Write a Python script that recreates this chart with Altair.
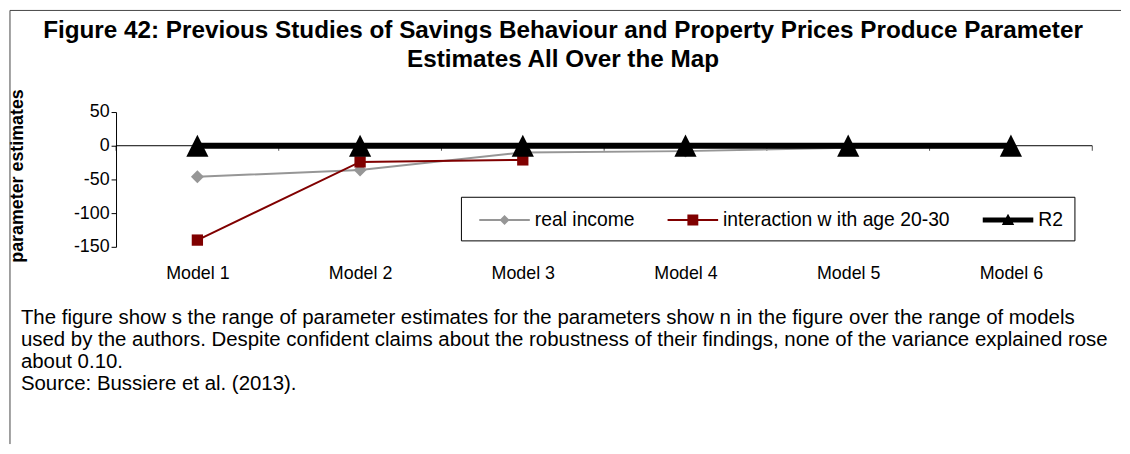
import altair as alt
import pandas as pd

# ---- data -------------------------------------------------------------
models = ["Model 1", "Model 2", "Model 3", "Model 4", "Model 5", "Model 6"]
series = ["real income", "interaction w ith age 20-30", "R2"]
real_income = [-46, -36, -10, -8, -3, -2]
interaction = [-140, -24, -21, None, None, None]
r2 = [0.02, 0.03, 0.04, 0.05, 0.06, 0.07]

title_lines = [
    "Figure 42: Previous Studies of Savings Behaviour and Property Prices Produce Parameter",
    "Estimates All Over the Map",
]
caption_lines = [
    "The figure show s the range of parameter estimates for the parameters show n in the figure over the range of models",
    "used by the authors. Despite confident claims about the robustness of their findings, none of the variance explained rose",
    "about 0.10.",
    "Source: Bussiere et al. (2013).",
]
y_ticks = [-150, -100, -50, 0, 50]

# ---- styles -----------------------------------------------------------
FONT = "Liberation Sans"
colors = ["#969696", "#800000", "#000000"]
line_widths = [2, 2, 6]
marker_paths = ["M0,-1L1,0L0,1L-1,0Z", "M-1,-1H1V1H-1Z", "M0,-1L1,1L-1,1Z"]
marker_sizes = [170, 130, 500]
legend_paths = [
    "M-2.04,-0.08H2.04V0.08H-2.04Z M0,-0.4L0.4,0L0,0.4L-0.4,0Z",
    "M-2.04,-0.08H2.04V0.08H-2.04Z M-0.44,-0.44H0.44V0.44H-0.44Z",
    "M-2.04,-0.2H2.04V0.2H-2.04Z M0,-0.5L0.5,0.4L-0.5,0.4Z",
]

W, H = 985, 136

rows = []
for name, vals in zip(series, [real_income, interaction, r2]):
    for i, v in enumerate(vals):
        if v is not None:
            rows.append({"series": name, "idx": i + 1, "model": models[i], "value": v})
df = pd.DataFrame(rows)

x_scale = alt.Scale(domain=[0.5, len(models) + 0.5], nice=False, zero=False)
y_scale = alt.Scale(domain=[-150, 50], nice=False, zero=False)
label_expr = "[" + ",".join("'%s'" % m for m in models) + "][datum.value - 1]"

x_enc = alt.X(
    "idx:Q",
    scale=x_scale,
    axis=alt.Axis(
        values=list(range(1, len(models) + 1)),
        labelExpr=label_expr,
        ticks=False,
        domain=False,
        grid=False,
        labelFont=FONT,
        labelFontSize=18,
        labelColor="black",
        labelPadding=18,
        labelOverlap=False,
        title=None,
    ),
)
y_enc = alt.Y(
    "value:Q",
    scale=y_scale,
    axis=alt.Axis(
        values=y_ticks,
        labelExpr="'' + datum.value",
        labelOverlap=False,
        grid=False,
        domainColor="black",
        tickColor="black",
        tickSize=5,
        labelFont=FONT,
        labelFontSize=18,
        labelColor="black",
        labelPadding=2,
        title="parameter estimates",
        titleFont=FONT,
        titleFontSize=18,
        titleFontWeight="bold",
        titleColor="black",
        titleX=-99,
        titleY=64,
        titleAlign="center",
        titleBaseline="middle",
        titleAngle=-90,
    ),
)

base = alt.Chart(df)

layers = []

# horizontal category axis line at zero
layers.append(
    alt.Chart(pd.DataFrame({"idx": [0.5, len(models) + 0.5], "value": [0, 0]}))
    .mark_line(color="black", strokeWidth=1)
    .encode(x=x_enc, y=y_enc)
)
# tick marks between categories
bounds = [i + 0.5 for i in range(len(models) + 1)]
layers.append(
    alt.Chart(pd.DataFrame({"idx": bounds, "value": [0] * len(bounds)}))
    .mark_tick(orient="vertical", color="black", size=5, thickness=1, yOffset=2.5)
    .encode(x=x_enc, y=y_enc)
)

for name, c, lw, p, s in zip(series, colors, line_widths, marker_paths, marker_sizes):
    sub = base.transform_filter(alt.datum.series == name)
    layers.append(sub.mark_line(color=c, strokeWidth=lw).encode(x=x_enc, y=y_enc))
    layers.append(
        sub.mark_point(shape=p, size=s, filled=True, fill=c, color=c, opacity=1, strokeWidth=0)
        .encode(x=x_enc, y=y_enc)
    )

# legend (driven by explicit scale domains)
leg = alt.Legend(
    orient="none",
    legendX=348,
    legendY=85.5,
    direction="horizontal",
    title=None,
    symbolSize=625,
    symbolStrokeWidth=0,
    symbolOpacity=1,
    symbolOffset=20.5,
    labelFont=FONT,
    labelFontSize=19.5,
    labelColor="black",
    labelOffset=18,
    columnPadding=25,
    padding=11,
    strokeColor="black",
    fillColor="white",
    labelLimit=400,
)
layers.append(
    base.transform_filter("false")
    .mark_point(filled=True, opacity=1)
    .encode(
        x=x_enc,
        y=y_enc,
        fill=alt.Fill("series:N", scale=alt.Scale(domain=series, range=colors), legend=leg),
        shape=alt.Shape("series:N", scale=alt.Scale(domain=series, range=legend_paths), legend=leg),
    )
)

# frame lines
one = pd.DataFrame({"a": [1]})
layers.append(
    alt.Chart(one)
    .mark_rule(color="#444444", strokeWidth=1)
    .encode(x=alt.value(-107), x2=alt.value(1014), y=alt.value(-102.5))
)
layers.append(
    alt.Chart(one)
    .mark_rule(color="#444444", strokeWidth=1)
    .encode(x=alt.value(-107), y=alt.value(-102.5), y2=alt.value(335))
)

# title lines
for line, ty in zip(title_lines, [-81.5, -52.5]):
    layers.append(
        alt.Chart(pd.DataFrame({"t": [line]}))
        .mark_text(align="center", baseline="middle", font=FONT, fontSize=24.5,
                   fontWeight="bold", color="black")
        .encode(text="t:N", x=alt.value(451), y=alt.value(ty))
    )

# caption
layers.append(
    alt.Chart(pd.DataFrame({"t": ["\n".join(caption_lines)]}))
    .mark_text(
        align="left",
        baseline="top",
        lineBreak="\n",
        lineHeight=22.4,
        font=FONT,
        fontSize=20.6,
        color="black",
    )
    .encode(text="t:N", x=alt.value(-96), y=alt.value(197.5))
)

chart = (
    alt.layer(*layers)
    .properties(width=W, height=H, padding=0)
    .configure_view(stroke=None)
)

chart.save("out.html", embed_options={"renderer": "svg", "actions": False})
